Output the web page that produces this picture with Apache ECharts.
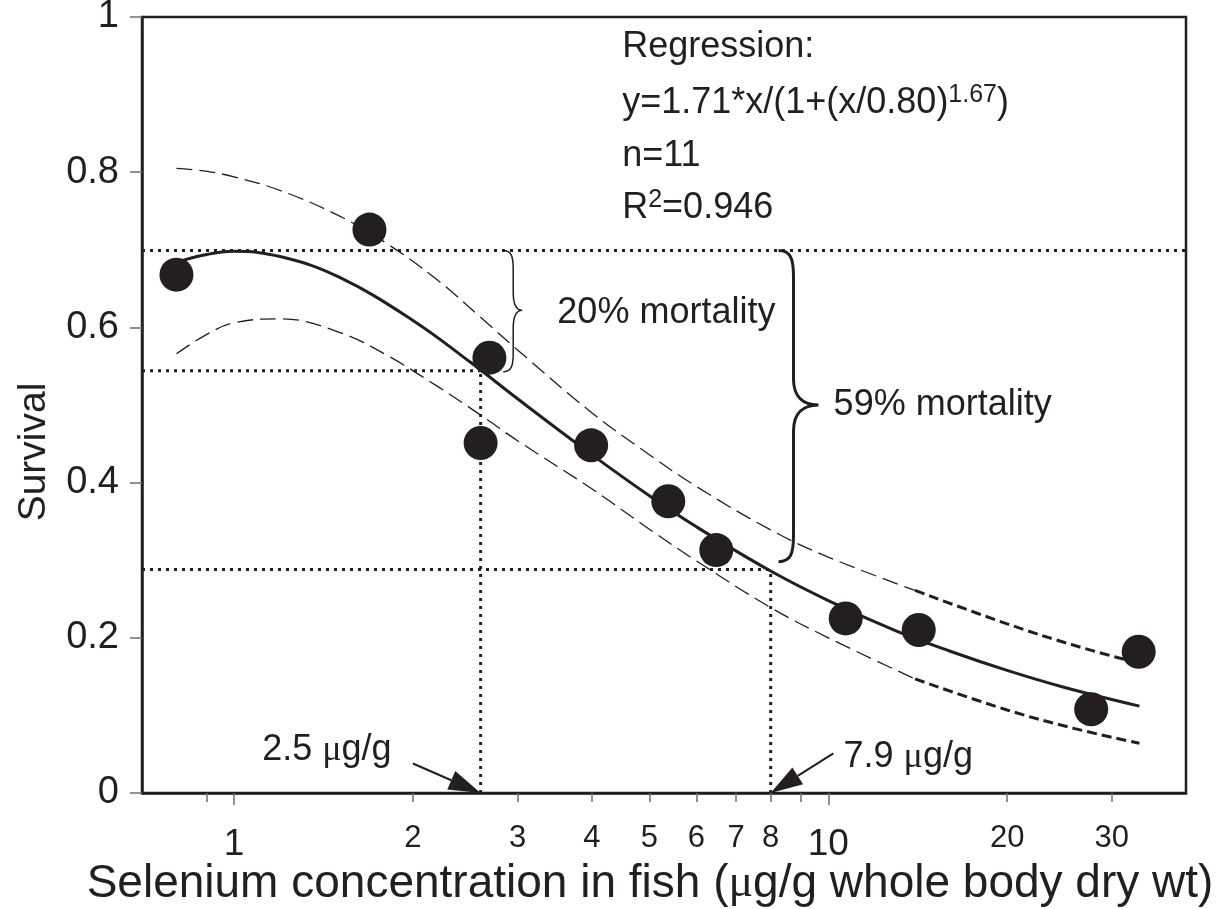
<!DOCTYPE html>
<html>
<head>
<meta charset="utf-8">
<title>Survival vs selenium in fish</title>
<script src="https://cdn.jsdelivr.net/npm/echarts@6/dist/echarts.min.js"></script>
<style>
  html, body { margin: 0; padding: 0; background: #fff; }
  #chart { width: 1225px; height: 909px; }
</style>
</head>
<body>
<div id="chart"></div>
<script>
// measured points: Se in fish (ug/g) and survival
const fishSe = [0.80, 1.69, 2.69, 2.60, 3.99, 5.38, 6.48, 10.7, 14.2, 27.7, 33.3];
const survival = [0.668, 0.726, 0.561, 0.451, 0.448, 0.376, 0.313, 0.225, 0.210, 0.108, 0.182];

// regression curve
const fitX = [0.8, 0.9, 1, 1.2, 1.5, 2, 2.5, 3, 4, 5, 6, 8, 10, 13, 16, 20, 25, 33.4];
const fitY = [0.684, 0.694, 0.698, 0.691, 0.665, 0.609, 0.555, 0.508, 0.436, 0.383, 0.343, 0.286, 0.248, 0.209, 0.183, 0.158, 0.136, 0.112];

// dashed band around the fit
const bandX = [0.8, 0.9, 1, 1.2, 1.5, 1.8, 2.2, 2.6, 3, 4, 5, 6, 8, 10, 14, 20, 26, 33.4];
const bandUpper = [0.805, 0.801, 0.794, 0.776, 0.744, 0.709, 0.661, 0.613, 0.571, 0.490, 0.436, 0.395, 0.339, 0.304, 0.261, 0.218, 0.190, 0.167];
const bandLower = [0.566, 0.591, 0.606, 0.611, 0.594, 0.565, 0.524, 0.487, 0.454, 0.392, 0.340, 0.299, 0.239, 0.200, 0.147, 0.107, 0.083, 0.064];
const boldFrom = 14; // band turns into the heavier dash from here

// axis ticks
const majorTicks = [1, 10];
const minorTicks = [0.9, 2, 3, 4, 5, 6, 7, 8, 9, 20, 30];
const minorLabels = [2, 3, 4, 5, 6, 7, 8, 20, 30];

// dotted guide lines
const levelY = [0.699, 0.544, 0.288];
const levelEndX = [40, 2.6, 8];
const doseX = [2.6, 8];
const doseTopY = [0.544, 0.288];

// braces: stroke x, top, bottom, tip
const braceX = [2.95, 8.74];
const braceTop = [0.699, 0.699];
const braceBottom = [0.543, 0.298];
const braceTip = [0.622, 0.500];

// arrows
const arrowFromX = [2.0, 10.2];
const arrowFromY = [0.038, 0.051];
const arrowToX = [2.6, 8.0];
const arrowToY = [0, 0];

// text notes
const noteText = [
  'Regression:',
  'y=1.71*x/(1+(x/0.80){sup|1.67})',
  'n=11',
  'R{sup|2}=0.946',
  '20% mortality',
  '59% mortality',
  '2.5 {mu|\u03bc}g/g',
  '7.9 {mu|\u03bc}g/g'
];
const noteX = [4.5, 4.5, 4.5, 4.5, 3.5, 10.21, 1.115, 10.61];
const noteY = [0.961, 0.889, 0.821, 0.754, 0.618, 0.500, 0.055, 0.046];

const ink = '#231f20';
const tickGrey = '#6d6d6d';
const font = '"Liberation Sans", Arial, Helvetica, sans-serif';

const chart = echarts.init(document.getElementById('chart'));

const dotted = { color: ink, width: 3, type: [3, 5], opacity: 1 };
const refSeries = [];
levelY.forEach((y, i) => {
  refSeries.push({
    type: 'line', data: [[0.7, y], [levelEndX[i], y]], symbol: 'none',
    lineStyle: dotted, silent: true, z: 1
  });
});
doseX.forEach((x, i) => {
  refSeries.push({
    type: 'line', data: [[x, 0], [x, doseTopY[i]]], symbol: 'none',
    lineStyle: { color: ink, width: 3, type: [3, 5] }, silent: true, z: 1
  });
});

const pair = (xs, ys) => xs.map((x, i) => [x, ys[i]]);
const upper = pair(bandX, bandUpper);
const lower = pair(bandX, bandLower);
const thin = pts => pts.filter(p => p[0] <= boldFrom + 1);
const bold = pts => pts.filter(p => p[0] >= boldFrom);

const bandSeries = [upper, lower].map(pts => [
  {
    type: 'line', data: thin(pts), smooth: 0.4, symbol: 'none', silent: true, z: 2,
    lineStyle: { color: ink, width: 1.3, type: [16, 7] }
  },
  {
    type: 'line', data: bold(pts), smooth: 0.4, symbol: 'none', silent: true, z: 2,
    lineStyle: { color: ink, width: 3, type: [10, 5] }
  }
]).flat();

const braceCurl = [10, 15];
const braceBend = [18, 26];
const braceReach = [9, 25];
const braceLine = [1.5, 3];

const option = {
  animation: false,
  backgroundColor: '#fff',
  textStyle: { fontFamily: font, color: ink },
  grid: {
    left: 142, right: 39, top: 17, bottom: 116,
    show: true, borderColor: ink, borderWidth: 2.5,
    containLabel: false, outerBoundsMode: 'none'
  },
  xAxis: [
    {
      type: 'log', logBase: 10, min: 0.7, max: 40, position: 'bottom',
      name: 'Selenium concentration in fish ({mu|\u03bc}g/g whole body dry wt)',
      nameLocation: 'middle', nameGap: 68, nameMoveOverlap: false,
      nameTextStyle: {
        fontSize: 46, color: ink, fontFamily: font, padding: [0, 28, 0, 0],
        rich: { mu: { fontSize: 46, fontFamily: '"Liberation Serif", serif', color: ink } }
      },
      axisLine: { show: true, lineStyle: { color: ink, width: 2.5 } },
      axisTick: { show: true, length: 12, customValues: majorTicks, lineStyle: { color: tickGrey, width: 1.5 } },
      axisLabel: { show: true, customValues: majorTicks, fontSize: 37, margin: 33, color: ink, fontFamily: font },
      splitLine: { show: false }
    },
    {
      type: 'log', logBase: 10, min: 0.7, max: 40, position: 'bottom', offset: 0,
      axisLine: { show: false },
      axisTick: { show: true, length: 9, customValues: minorTicks, lineStyle: { color: tickGrey, width: 1.5 } },
      axisLabel: { show: true, customValues: minorLabels, fontSize: 31, margin: 30, color: ink, fontFamily: font },
      splitLine: { show: false }
    }
  ],
  yAxis: {
    type: 'value', min: 0, max: 1, interval: 0.2,
    name: 'Survival', nameLocation: 'middle', nameGap: 88, nameMoveOverlap: false,
    nameTextStyle: { fontSize: 39, color: ink, fontFamily: font, padding: [0, 94, 0, 0] },
    axisLine: { show: true, lineStyle: { color: ink, width: 2.5 } },
    axisTick: { show: true, length: 12, lineStyle: { color: tickGrey, width: 1.5 } },
    axisLabel: { fontSize: 38, margin: 23, color: ink, fontFamily: font },
    splitLine: { show: false }
  },
  series: [
    ...refSeries,
    ...bandSeries,
    {
      type: 'line', data: pair(fitX, fitY), smooth: 0.4, symbol: 'none', silent: true, z: 3,
      lineStyle: { color: ink, width: 3 }
    },
    {
      type: 'custom', silent: true, z: 4, clip: false,
      data: braceX.map((x, i) => [x, braceTop[i], braceBottom[i], braceTip[i]]),
      encode: { x: 0, y: [1, 2, 3] },
      renderItem: (params, api) => {
        const i = params.dataIndex;
        const top = api.coord([api.value(0), api.value(1)]);
        const bot = api.coord([api.value(0), api.value(2)]);
        const tip = api.coord([api.value(0), api.value(3)]);
        const X = top[0], T = top[1], B = bot[1], M = tip[1];
        const c = braceCurl[i], r = braceBend[i], w = braceReach[i];
        const d = [
          'M', X - c, T,
          'C', X - c * 0.2, T, X, T + r * 0.3, X, T + r,
          'L', X, M - r,
          'C', X, M - r * 0.3, X + w * 0.4, M, X + w, M,
          'C', X + w * 0.4, M, X, M + r * 0.3, X, M + r,
          'L', X, B - r,
          'C', X, B - r * 0.3, X - c * 0.2, B, X - c, B
        ].join(' ');
        return {
          type: 'path', shape: { pathData: d },
          style: { stroke: ink, lineWidth: braceLine[i], fill: 'none' }
        };
      }
    },
    {
      type: 'custom', silent: true, z: 4, clip: false,
      data: arrowFromX.map((x, i) => [x, arrowFromY[i], arrowToX[i], arrowToY[i]]),
      encode: { x: [0, 2], y: [1, 3] },
      renderItem: (params, api) => {
        const p0 = api.coord([api.value(0), api.value(1)]);
        const p1 = api.coord([api.value(2), api.value(3)]);
        const dx = p1[0] - p0[0], dy = p1[1] - p0[1];
        const len = Math.hypot(dx, dy);
        const ux = dx / len, uy = dy / len;
        const hl = 32, hw = 10;
        const bx = p1[0] - ux * hl, by = p1[1] - uy * hl;
        return {
          type: 'group',
          children: [
            { type: 'line', shape: { x1: p0[0], y1: p0[1], x2: bx, y2: by }, style: { stroke: ink, lineWidth: 2 } },
            {
              type: 'polygon',
              shape: { points: [[p1[0], p1[1]], [bx - uy * hw, by + ux * hw], [bx + uy * hw, by - ux * hw]] },
              style: { fill: ink }
            }
          ]
        };
      }
    },
    {
      type: 'scatter', data: fishSe.map((x, i) => [x, survival[i]]),
      symbol: 'circle', symbolSize: 34, z: 5, silent: true,
      itemStyle: { color: ink, opacity: 1 }
    },
    {
      type: 'scatter', data: pair(noteX, noteY), symbolSize: 0, z: 6, silent: true,
      itemStyle: { opacity: 1 },
      label: {
        show: true, position: 'right', distance: 0,
        formatter: p => noteText[p.dataIndex],
        fontSize: 36, color: ink, fontFamily: font, opacity: 1,
        rich: {
          sup: { fontSize: 25, color: ink, fontFamily: font, padding: [0, 0, 16, 0] },
          mu: { fontSize: 36, color: ink, fontFamily: '"Liberation Serif", serif' }
        }
      }
    }
  ]
};

chart.setOption(option);
</script>
</body>
</html>
